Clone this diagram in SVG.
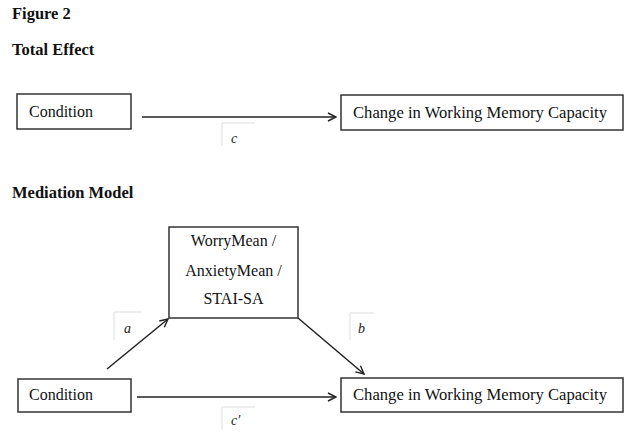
<svg xmlns="http://www.w3.org/2000/svg" width="625" height="436" viewBox="0 0 625 436">
<style>
.h{font-family:"Liberation Serif","Times New Roman",serif;font-weight:bold;font-size:16.5px;fill:#111}
.t{font-family:"Liberation Serif","Times New Roman",serif;font-size:16px;fill:#111}
.l{font-family:"Liberation Serif","Times New Roman",serif;font-style:italic;font-size:14px;fill:#222}
.box{fill:#fff;stroke:#333;stroke-width:1.5}
.lab{fill:none;stroke:#ddd;stroke-width:1}
.edge{stroke:#222;stroke-width:1.5;fill:none;marker-end:url(#arr)}
</style>
<defs>
<marker id="arr" viewBox="0 0 10 10" refX="9" refY="5" markerWidth="10" markerHeight="10" markerUnits="userSpaceOnUse" orient="auto">
<path d="M1,1 L9,5 L1,9" fill="none" stroke="#222" stroke-width="1.4"/>
</marker>
</defs>
<rect width="625" height="436" fill="#fff"/>
<text class="h" x="12" y="19">Figure 2</text>
<text class="h" x="12" y="55">Total Effect</text>
<text class="h" x="12" y="198">Mediation Model</text>
<g id="connectors">
<line class="edge" x1="142" y1="117" x2="336" y2="117"/>
<line class="edge" x1="107" y1="369" x2="168" y2="319"/>
<line class="edge" x1="298" y1="318" x2="364" y2="374"/>
<line class="edge" x1="137" y1="397" x2="336" y2="397"/>
</g>
<g id="label-c">
<path class="lab" d="M222,146 V123 H255"/>
<text class="l" x="231" y="143">c</text>
</g>
<g id="label-a">
<path class="lab" d="M114,340 V312 H142"/>
<text class="l" x="124" y="333">a</text>
</g>
<g id="label-b">
<path class="lab" d="M350,340 V313 H374"/>
<text class="l" x="358" y="333">b</text>
</g>
<g id="label-cprime">
<path class="lab" d="M222,430 V407 H255"/>
<text class="l" x="231" y="425">c′</text>
</g>
<g id="condition-top">
<rect class="box" x="17" y="94" width="114" height="35"/>
<text class="t" x="29" y="117">Condition</text>
</g>
<g id="wmc-top">
<rect class="box" x="341" y="95" width="282" height="35"/>
<text class="t" x="353" y="118" textLength="254" lengthAdjust="spacingAndGlyphs">Change in Working Memory Capacity</text>
</g>
<g id="mediator">
<rect class="box" x="169" y="227" width="129" height="91"/>
<text class="t" x="233.5" y="246" text-anchor="middle">WorryMean /</text>
<text class="t" x="233.5" y="276" text-anchor="middle">AnxietyMean /</text>
<text class="t" x="233.5" y="304" text-anchor="middle">STAI-SA</text>
</g>
<g id="condition-bottom">
<rect class="box" x="18" y="379" width="113" height="33"/>
<text class="t" x="29" y="400">Condition</text>
</g>
<g id="wmc-bottom">
<rect class="box" x="341" y="378" width="282" height="34"/>
<text class="t" x="353" y="400" textLength="254" lengthAdjust="spacingAndGlyphs">Change in Working Memory Capacity</text>
</g>
</svg>
